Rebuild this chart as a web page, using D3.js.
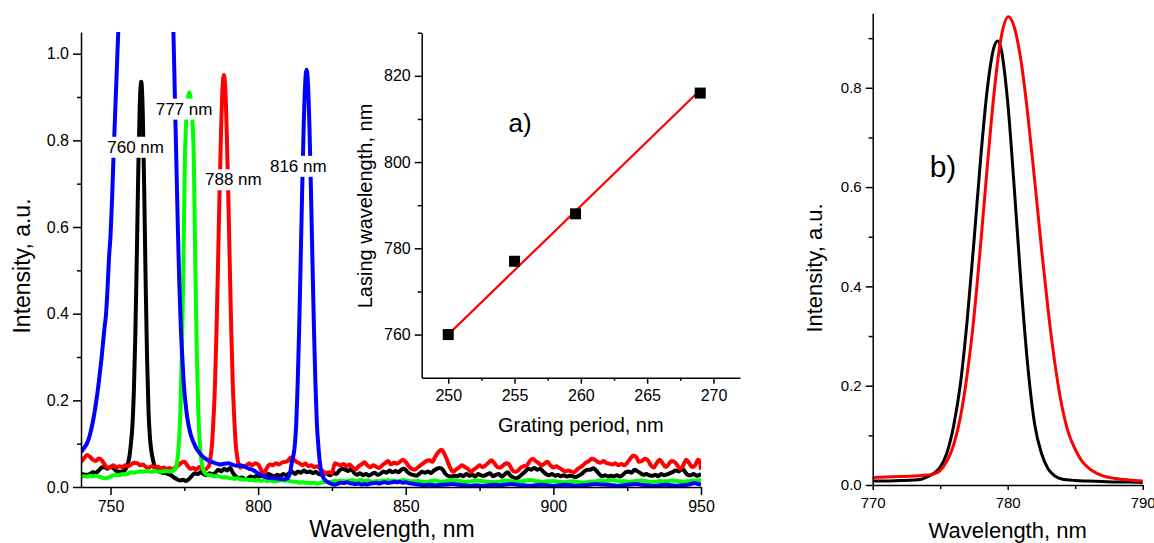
<!DOCTYPE html>
<html><head><meta charset="utf-8">
<script src="https://cdn.jsdelivr.net/npm/d3@7"></script>
<style>
body{margin:0;background:#fff}
svg{display:block}
text{font-family:"Liberation Sans",Arial,sans-serif;fill:#000}
</style>
</head><body>
<svg id="c" width="1154" height="543"></svg>
<script>
// ---------- DATA: main panel spectra [wavelength nm, intensity a.u.] ----------
const blackSpectrum = [[740,.03],[741,.029],[742,.028],[743,.03],[744,.034],[745,.033],[746,.038],[747,.045],[748,.046],[749,.042],[750,.047],[751,.043],[752,.037],[753,.035],[754,.036],[755,.04],[755.4,.045],[755.9,.055],[756.4,.07],[756.9,.1],[757.4,.14],[757.9,.22],[758.4,.35],[758.9,.53],[759.4,.73],[759.9,.88],[760.4,.935],[760.9,.87],[761.4,.69],[761.9,.47],[762.4,.29],[762.9,.17],[763.4,.11],[763.9,.08],[764.4,.062],[764.9,.048],[765.5,.04],[766.5,.035],[767.5,.033],[768.5,.032],[769.5,.03],[770.5,.027],[771.5,.022],[772.5,.018],[773.5,.015],[774.5,.017],[775.5,.014],[776.5,.018],[777.5,.025],[778.5,.032],[779.5,.03],[780.5,.034],[781.5,.03],[782.5,.027],[783.5,.032],[784.5,.029],[785.5,.033],[786.5,.04],[787.5,.036],[788.5,.042],[789.5,.038],[790.5,.044],[791.5,.032],[792.5,.024],[793.5,.02],[794.5,.022],[795.5,.018],[796.5,.02],[797.5,.024],[798.5,.022],[799.5,.026],[800.5,.024],[801.5,.028],[802.5,.025],[803.5,.03],[804.5,.027],[805.5,.024],[806.5,.028],[807.5,.025],[808.5,.03],[809.5,.027],[810.5,.032],[811.5,.035],[812.5,.03],[813.5,.036],[814.5,.033],[815.5,.038],[816.5,.034],[817.5,.036],[818.5,.032],[819.5,.035],[820.5,.03],[821.5,.028],[822.5,.032],[823.5,.03],[824.5,.027],[825.5,.033],[826.5,.03],[827.5,.038],[828.5,.042],[829.5,.04],[830.5,.037],[831.5,.042],[832.5,.033],[833.5,.028],[834.5,.032],[835.5,.027],[836.5,.03],[837.5,.026],[838.5,.03],[839.5,.033],[840.5,.028],[841.5,.031],[842.5,.036],[843.5,.033],[844.5,.038],[845.5,.034],[846.5,.037],[847.5,.034],[848.5,.04],[849.5,.042],[850.5,.035],[851.5,.03],[852.5,.028],[853.5,.026],[854.5,.03],[855.5,.035],[856.5,.033],[857.5,.036],[858.5,.032],[859.5,.038],[860.5,.042],[861.5,.044],[862.5,.04],[863.5,.03],[864.5,.025],[865.5,.024],[866.5,.026],[867.5,.025],[868.5,.028],[869.5,.025],[870.5,.03],[871.5,.026],[872.5,.028],[873.5,.024],[874.5,.03],[875.5,.027],[876.5,.026],[877.5,.029],[878.5,.032],[879.5,.025],[880.5,.028],[881.5,.03],[882.5,.024],[883.5,.029],[884.5,.034],[885.5,.026],[886.5,.022],[887.5,.02],[888.5,.024],[889.5,.03],[890.5,.036],[891.5,.042],[892.5,.04],[893.5,.044],[894.5,.04],[895.5,.042],[896.5,.036],[897.5,.03],[898.5,.027],[899.5,.03],[900.5,.026],[901.5,.028],[902.5,.025],[903.5,.027],[904.5,.024],[905.5,.026],[906.5,.025],[907.5,.023],[908.5,.026],[909.5,.03],[910.5,.036],[911.5,.04],[912.5,.04],[913.5,.043],[914.5,.038],[915.5,.03],[916.5,.025],[917.5,.027],[918.5,.024],[919.5,.026],[920.5,.025],[921.5,.027],[922.5,.024],[923.5,.028],[924.5,.034],[925.5,.036],[926.5,.033],[927.5,.04],[928.5,.036],[929.5,.032],[930.5,.028],[931.5,.03],[932.5,.027],[933.5,.026],[934.5,.028],[935.5,.025],[936.5,.03],[937.5,.027],[938.5,.029],[939.5,.032],[940.5,.035],[941.5,.038],[942.5,.036],[943.5,.043],[944.5,.036],[945.5,.028],[946.5,.027],[947.5,.03],[948.5,.026],[949.5,.028],[950,.03]];

const redSpectrum = [[740,.058],[741,.066],[742,.074],[743,.07],[744,.063],[745,.06],[746,.066],[747,.062],[748,.052],[749,.044],[750,.046],[751,.05],[752,.045],[753,.048],[754,.046],[755,.05],[756,.048],[757,.052],[758,.056],[759,.055],[760,.05],[761,.052],[762,.046],[763,.045],[764,.048],[765,.044],[766,.047],[767,.043],[768,.045],[769,.042],[770,.044],[771,.04],[772,.046],[773,.05],[774,.056],[775,.058],[776,.05],[777,.042],[778,.044],[779,.04],[780,.046],[781,.042],[782,.04],[782.9,.045],[783.4,.05],[783.9,.07],[784.4,.1],[784.9,.16],[785.4,.24],[785.9,.36],[786.4,.51],[786.9,.67],[787.4,.81],[787.9,.915],[788.4,.951],[788.9,.915],[789.4,.81],[789.9,.67],[790.4,.51],[790.9,.36],[791.4,.24],[791.9,.16],[792.4,.1],[792.9,.07],[793.4,.052],[794,.045],[795,.048],[796,.05],[797,.054],[798,.05],[799,.055],[800,.052],[801,.04],[802,.03],[803,.045],[804,.052],[805,.05],[806,.055],[807,.052],[808,.056],[809,.058],[810,.06],[811,.068],[812,.064],[813,.058],[814,.055],[815,.05],[816,.054],[817,.048],[818,.05],[819,.046],[820,.048],[821,.042],[822,.036],[823,.032],[824,.034],[825,.032],[826,.055],[827,.052],[828,.05],[829,.053],[830,.048],[831,.052],[832,.045],[833,.04],[834,.048],[835,.052],[836,.057],[837,.05],[838,.046],[839,.05],[840,.047],[841,.044],[842,.05],[843,.055],[844,.06],[845,.052],[846,.056],[847,.054],[848,.058],[849,.063],[850,.058],[851,.048],[852,.042],[853,.04],[854,.045],[855,.05],[856,.055],[857,.06],[858,.062],[859,.058],[860,.07],[861,.08],[862,.086],[863,.078],[864,.062],[865,.045],[866,.035],[867,.04],[868,.045],[869,.05],[870,.046],[871,.042],[872,.035],[873,.04],[874,.045],[875,.05],[876,.046],[877,.05],[878,.056],[879,.062],[880,.055],[881,.046],[882,.045],[883,.05],[884,.055],[885,.052],[886,.04],[887,.035],[888,.038],[889,.045],[890,.048],[891,.05],[892,.06],[893,.065],[894,.06],[895,.055],[896,.05],[897,.054],[898,.058],[899,.05],[900,.045],[901,.048],[902,.044],[903,.04],[904,.036],[905,.038],[906,.036],[907,.034],[908,.04],[909,.045],[910,.05],[911,.056],[912,.06],[913,.065],[914,.063],[915,.058],[916,.056],[917,.06],[918,.055],[919,.054],[920,.052],[921,.055],[922,.05],[923,.053],[924,.05],[925,.056],[926,.065],[927,.072],[928,.07],[929,.058],[930,.06],[931,.065],[932,.062],[933,.05],[934,.045],[935,.055],[936,.063],[937,.055],[938,.046],[939,.052],[940,.06],[941,.058],[942,.05],[943,.042],[944,.05],[945,.063],[946,.055],[947,.046],[948,.05],[949,.063],[949.5,.06],[950,.04]];

const greenSpectrum = [[740,.024],[741,.025],[742,.024],[743,.026],[744,.025],[745,.026],[746,.024],[747,.022],[748,.02],[749,.021],[750,.024],[751,.027],[752,.028],[753,.027],[754,.03],[755,.029],[756,.031],[757,.034],[758,.033],[759,.035],[760,.036],[761,.035],[762,.037],[763,.036],[764,.035],[765,.037],[766,.036],[767,.035],[768,.036],[769,.037],[770,.036],[771,.037],[771.7,.04],[772.2,.045],[772.7,.065],[773.2,.105],[773.7,.18],[774.2,.32],[774.7,.52],[775.2,.76],[775.7,.85],[776.2,.895],[776.7,.911],[777.2,.895],[777.7,.85],[778.2,.76],[778.7,.52],[779.2,.32],[779.7,.18],[780.2,.105],[780.7,.065],[781.2,.045],[782,.032],[783,.028],[784,.027],[785,.025],[786,.026],[787,.024],[788,.022],[789,.023],[790,.021],[791,.02],[792,.019],[793,.02],[794,.018],[795,.017],[796,.018],[797,.016],[798,.017],[799,.015],[800,.016],[801,.014],[802,.016],[803,.014],[804,.015],[805,.014],[806,.013],[807,.015],[808,.016],[809,.014],[810,.015],[811,.013],[812,.012],[813,.012],[814,.01],[815,.011],[816,.01],[817,.01],[818,.009],[819,.01],[820,.008],[821,.009],[822,.011],[823,.012],[824,.011],[825,.013],[826,.014],[827,.013],[828,.015],[829,.014],[830,.013],[831,.015],[832,.016],[833,.014],[834,.015],[835,.016],[836,.014],[837,.015],[838,.013],[839,.012],[840,.014],[841,.013],[842,.015],[843,.014],[844,.016],[845,.014],[846,.015],[847,.013],[848,.014],[849,.016],[850,.015],[852,.013],[854,.014],[856,.012],[858,.013],[860,.015],[862,.012],[864,.014],[866,.016],[868,.014],[870,.012],[872,.013],[874,.015],[876,.014],[878,.012],[880,.011],[882,.013],[884,.015],[886,.013],[888,.012],[890,.014],[892,.016],[894,.014],[896,.012],[898,.013],[900,.014],[902,.012],[904,.011],[906,.013],[908,.012],[910,.01],[912,.012],[914,.013],[916,.015],[918,.014],[920,.016],[922,.014],[924,.013],[926,.012],[928,.014],[930,.015],[932,.013],[934,.012],[936,.014],[938,.013],[940,.015],[942,.014],[944,.012],[946,.014],[948,.015],[950,.016]];

const blueSpectrum = [[740,.08],[741,.09],[742,.1],[743,.12],[744,.15],[745,.19],[746,.24],[747,.3],[748,.37],[748.5,.4],[749,.46],[749.5,.53],[750,.58],[750.5,.66],[751,.76],[751.5,.85],[752,.94],[752.5,1.03],[753,1.12],[754,1.3],[757,1.6],[762,1.8],[767,1.6],[770,1.3],[771,1.1],[771.3,1.05],[771.8,.9],[772.3,.75],[772.8,.6],[773.3,.47],[773.8,.37],[774.3,.3],[774.8,.24],[775.3,.2],[776,.16],[777,.125],[778,.105],[779,.09],[780,.08],[781,.072],[782,.066],[783,.062],[784,.059],[785,.056],[786,.054],[787,.052],[788,.053],[789,.054],[790,.055],[791,.052],[792,.05],[793,.049],[794,.05],[795,.048],[796,.045],[797,.042],[798,.04],[799,.036],[800,.032],[801,.028],[802,.024],[803,.022],[804,.021],[805,.02],[806,.02],[807,.019],[808,.018],[809,.018],[810,.02],[810.4,.025],[810.9,.035],[811.4,.057],[811.9,.07],[812.4,.095],[812.9,.145],[813.4,.24],[813.9,.367],[814.4,.52],[814.9,.681],[815.4,.826],[815.9,.927],[816.4,.963],[816.9,.927],[817.4,.826],[817.9,.681],[818.4,.52],[818.9,.367],[819.4,.24],[819.9,.145],[820.4,.095],[820.9,.057],[821.4,.035],[821.9,.025],[822.4,.018],[823,.014],[824,.01],[825,.007],[826,.005],[827,.008],[828,.01],[829,.009],[830,.011],[831,.009],[832,.008],[833,.007],[834,.008],[835,.006],[836,.007],[837,.006],[838,.008],[839,.009],[840,.01],[841,.008],[842,.01],[843,.011],[844,.009],[845,.01],[846,.012],[847,.011],[848,.012],[849,.01],[850,.011],[851,.009],[852,.008],[853,.007],[854,.006],[855,.005],[856,.004],[858,.005],[860,.004],[862,.005],[864,.006],[866,.007],[868,.005],[870,.004],[872,.003],[874,.004],[876,.003],[878,.004],[880,.005],[882,.004],[884,.006],[886,.007],[888,.005],[890,.004],[892,.003],[894,.004],[896,.005],[898,.004],[900,.003],[902,.004],[904,.005],[906,.004],[908,.003],[910,.004],[912,.005],[914,.007],[916,.006],[918,.005],[920,.004],[922,.003],[924,.004],[926,.006],[928,.007],[930,.005],[932,.004],[934,.003],[936,.004],[938,.005],[940,.004],[942,.003],[944,.004],[946,.006],[947,.008],[948,.009],[949,.007],[950,.006]];

const peakLabels = ["760 nm", "777 nm", "788 nm", "816 nm"];

// ---------- DATA: inset a) ----------
const gratingPeriod = [250, 255, 259.6, 269];
const lasingWavelength = [760, 777, 788, 816];
const fitPeriod = [250, 269.1];
const fitWavelength = [760, 817];

// ---------- DATA: panel b) ----------
const bBlack = [[770,.008],[771,.008],[772,.009],[773,.01],[773.5,.011],[774,.016],[774.5,.023],[775,.036],[775.5,.065],[776,.12],[776.5,.204],[777,.332],[777.5,.49],[778,.659],[778.5,.8],[779,.883],[779.25,.894],[779.5,.88],[780,.771],[780.5,.593],[781,.4],[781.5,.236],[782,.122],[782.5,.064],[783,.032],[783.5,.018],[784,.012],[785,.009],[786,.008],[787,.007],[788,.006],[789,.006],[790,.005]];
const bRed = [[770,.015],[771,.016],[772,.017],[773,.018],[774,.02],[774.5,.022],[775,.029],[775.5,.048],[776,.081],[776.5,.137],[777,.223],[777.5,.338],[778,.486],[778.5,.645],[779,.792],[779.5,.899],[780.05,.943],[780.5,.921],[781,.852],[781.5,.743],[782,.613],[782.5,.477],[783,.351],[783.5,.244],[784,.161],[784.5,.105],[785,.072],[785.5,.048],[786,.034],[786.5,.025],[787,.019],[788,.013],[789,.01],[790,.008]];

// ---------- LAYOUT ----------
const FONT = '"Liberation Sans", Arial, sans-serif';
const svg = d3.select("#c");

function styleAxis(g, fs) {
  g.attr("font-size", fs).attr("font-family", FONT);
  g.selectAll(".domain").attr("stroke", "#000").attr("stroke-width", 1.5);
  g.selectAll(".tick line").attr("stroke", "#000").attr("stroke-width", 1.5);
  g.selectAll(".tick text").attr("fill", "#000");
}
function minorAxis(g, axis) {
  g.call(axis);
  g.select(".domain").remove();
  g.selectAll(".tick text").remove();
  g.selectAll(".tick line").attr("stroke", "#000").attr("stroke-width", 1.5);
}

// ===== Main panel =====
const mx = d3.scaleLinear().domain([740, 950]).range([81, 701]);
const my = d3.scaleLinear().domain([0, 1.05]).range([487, 32]);

svg.append("defs").append("clipPath").attr("id", "mclip")
  .append("rect").attr("x", mx(740)).attr("y", my(1.05))
  .attr("width", mx(950) - mx(740)).attr("height", my(0) - my(1.05) + 4);

const mline = d3.line().x(d => mx(d[0])).y(d => my(d[1])).curve(d3.curveMonotoneX);
const mg = svg.append("g").attr("clip-path", "url(#mclip)");
[[blackSpectrum, "#000"], [redSpectrum, "#ff0000"], [greenSpectrum, "#00ff00"], [blueSpectrum, "#0000ff"]]
  .forEach(([d, c]) => mg.append("path").datum(d).attr("d", mline)
    .attr("fill", "none").attr("stroke", c).attr("stroke-width", 4).attr("stroke-linejoin", "round"));

// main axes
const gmx = svg.append("g").attr("transform", `translate(0,${my(0)})`)
  .call(d3.axisBottom(mx).tickValues([750, 800, 850, 900, 950]).tickSize(8).tickSizeOuter(0).tickPadding(6).tickFormat(d3.format("d")));
styleAxis(gmx, 16);
minorAxis(svg.append("g").attr("transform", `translate(0,${my(0)})`),
  d3.axisBottom(mx).tickValues([775, 825, 875, 925]).tickSize(4).tickSizeOuter(0));

const gmy = svg.append("g").attr("transform", `translate(${mx(740)},0)`)
  .call(d3.axisLeft(my).tickValues([0, .2, .4, .6, .8, 1.0]).tickSize(8).tickSizeOuter(0).tickPadding(4).tickFormat(d3.format(".1f")));
styleAxis(gmy, 16);
minorAxis(svg.append("g").attr("transform", `translate(${mx(740)},0)`),
  d3.axisLeft(my).tickValues([.1, .3, .5, .7, .9]).tickSize(4).tickSizeOuter(0));

svg.append("text").attr("x", (mx(740) + mx(950)) / 2 + 1).attr("y", 537)
  .attr("text-anchor", "middle").attr("font-size", 23).text("Wavelength, nm");
svg.append("text").attr("transform", `translate(30,266) rotate(-90)`)
  .attr("text-anchor", "middle").attr("font-size", 23).text("Intensity, a.u.");

// peak labels with white boxes
const labelPos = [[758.5, .784], [774.9, .872], [791.6, .709], [813.6, .74]];
peakLabels.forEach((t, i) => {
  const g = svg.append("g");
  const tx = g.append("text").attr("x", mx(labelPos[i][0])).attr("y", my(labelPos[i][1]))
    .attr("text-anchor", "middle").attr("dominant-baseline", "central").attr("font-size", 17).text(t);
  const bb = tx.node().getBBox();
  g.insert("rect", "text").attr("x", bb.x - 1).attr("y", bb.y - 1).attr("width", bb.width + 2).attr("height", bb.height + 2).attr("fill", "#fff");
});

// ===== Inset a) =====
const ax = d3.scaleLinear().domain([248, 272]).range([421.7, 740]);
const ay = d3.scaleLinear().domain([750, 830]).range([377.7, 32.7]);

const gax = svg.append("g").attr("transform", `translate(0,${ay(750)})`)
  .call(d3.axisBottom(ax).tickValues([250, 255, 260, 265, 270]).tickSize(6).tickSizeOuter(0).tickPadding(6).tickFormat(d3.format("d")));
styleAxis(gax, 16);
minorAxis(svg.append("g").attr("transform", `translate(0,${ay(750)})`),
  d3.axisBottom(ax).tickValues([252.5, 257.5, 262.5, 267.5]).tickSize(3).tickSizeOuter(0));
const gay = svg.append("g").attr("transform", `translate(${ax(248)},0)`)
  .call(d3.axisLeft(ay).tickValues([760, 780, 800, 820]).tickSize(7).tickSizeOuter(0).tickPadding(4).tickFormat(d3.format("d")));
styleAxis(gay, 16);
minorAxis(svg.append("g").attr("transform", `translate(${ax(248)},0)`),
  d3.axisLeft(ay).tickValues([770, 790, 810, 830]).tickSize(4).tickSizeOuter(0));

svg.append("line").attr("x1", ax(fitPeriod[0])).attr("y1", ay(fitWavelength[0]))
  .attr("x2", ax(fitPeriod[1])).attr("y2", ay(fitWavelength[1]))
  .attr("stroke", "#ff0000").attr("stroke-width", 2.2);
svg.append("g").selectAll("rect").data(gratingPeriod).join("rect")
  .attr("x", (d) => ax(d) - 5.5).attr("y", (d, i) => ay(lasingWavelength[i]) - 5.5)
  .attr("width", 11).attr("height", 11).attr("fill", "#000");

svg.append("text").attr("x", (ax(248) + ax(272)) / 2).attr("y", 432)
  .attr("text-anchor", "middle").attr("font-size", 20).text("Grating period, nm");
svg.append("text").attr("transform", `translate(372,206) rotate(-90)`)
  .attr("text-anchor", "middle").attr("font-size", 20).text("Lasing wavelength, nm");
svg.append("text").attr("x", 520).attr("y", 132).attr("text-anchor", "middle")
  .attr("font-size", 26).text("a)");

// ===== Panel b) =====
const bx = d3.scaleLinear().domain([770, 790]).range([872.7, 1142.7]);
const by = d3.scaleLinear().domain([0, 0.95]).range([485, 13.3]);
const bline = d3.line().x(d => bx(d[0])).y(d => by(d[1])).curve(d3.curveMonotoneX);
[[bBlack, "#000"], [bRed, "#ff0000"]].forEach(([d, c]) =>
  svg.append("path").datum(d).attr("d", bline).attr("fill", "none").attr("stroke", c).attr("stroke-width", 3));

const gbx = svg.append("g").attr("transform", `translate(0,${by(0)})`)
  .call(d3.axisBottom(bx).tickValues([770, 780, 790]).tickSize(5).tickSizeOuter(0).tickPadding(7).tickFormat(d3.format("d")));
styleAxis(gbx, 15);
minorAxis(svg.append("g").attr("transform", `translate(0,${by(0)})`),
  d3.axisBottom(bx).tickValues([775, 785]).tickSize(4).tickSizeOuter(0));
const gby = svg.append("g").attr("transform", `translate(${bx(770)},0)`)
  .call(d3.axisLeft(by).tickValues([0, .2, .4, .6, .8]).tickSize(7).tickSizeOuter(0).tickPadding(4).tickFormat(d3.format(".1f")));
styleAxis(gby, 15);
minorAxis(svg.append("g").attr("transform", `translate(${bx(770)},0)`),
  d3.axisLeft(by).tickValues([.1, .3, .5, .7, .9]).tickSize(4).tickSizeOuter(0));

svg.append("text").attr("x", bx(780)).attr("y", 538).attr("text-anchor", "middle")
  .attr("font-size", 22).text("Wavelength, nm");
svg.append("text").attr("transform", `translate(822,268) rotate(-90)`)
  .attr("text-anchor", "middle").attr("font-size", 22).text("Intensity, a.u.");
svg.append("text").attr("x", 943).attr("y", 177).attr("text-anchor", "middle")
  .attr("font-size", 30).text("b)");
</script>
</body></html>
